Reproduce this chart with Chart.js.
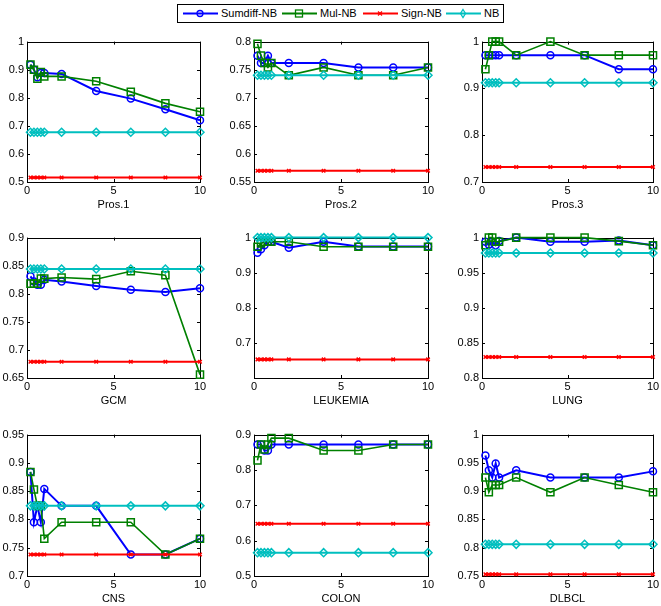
<!DOCTYPE html>
<html>
<head>
<meta charset="utf-8">
<script src="https://cdn.jsdelivr.net/npm/chart.js@4/dist/chart.umd.min.js"></script>
<style>
    html, body { margin: 0; padding: 0; background: #fff; }
    body { width: 661px; height: 606px; position: relative; overflow: hidden; font-family: "Liberation Sans", Arial, sans-serif; }
    canvas.panel { position: absolute; }
    #legend { position: absolute; left: 177px; top: 4px; width: 325px; height: 17px; border: 1px solid #000; background: #fff; }
    #legend .item { position: absolute; top: 0; height: 17px; font-size: 11px; line-height: 17px; color: #000; white-space: nowrap; }
    #legend svg { position: absolute; top: 0; }
</style>
</head>
<body>
<div id="legend"></div>

<script>
// x positions shared by every panel
const xValues = [0.2, 0.4, 0.6, 0.8, 1, 2, 4, 6, 8, 10];
const xTicks = [0, 5, 10];

const panelTitles = ['Pros.1', 'Pros.2', 'Pros.3', 'GCM', 'LEUKEMIA', 'LUNG', 'CNS', 'COLON', 'DLBCL'];
const seriesNames = ['Sumdiff-NB', 'Mul-NB', 'Sign-NB', 'NB'];

// one row per panel, same order as panelTitles
const sumdiffNB = [
    [0.918, 0.900, 0.873, 0.888, 0.888, 0.885, 0.824, 0.797, 0.759, 0.720],
    [0.775, 0.762, 0.762, 0.775, 0.762, 0.762, 0.762, 0.754, 0.754, 0.754],
    [0.971, 0.971, 0.971, 0.971, 0.971, 0.971, 0.971, 0.971, 0.941, 0.941],
    [0.831, 0.822, 0.816, 0.816, 0.825, 0.822, 0.814, 0.807, 0.803, 0.810],
    [0.957, 0.967, 0.978, 0.988, 0.988, 0.971, 0.988, 0.975, 0.975, 0.975],
    [0.994, 0.990, 0.994, 0.989, 0.995, 1.000, 0.994, 0.994, 0.996, 0.989],
    [0.884, 0.795, 0.824, 0.795, 0.854, 0.824, 0.824, 0.738, 0.738, 0.766],
    [0.872, 0.872, 0.855, 0.855, 0.872, 0.872, 0.872, 0.872, 0.872, 0.872],
    [0.963, 0.937, 0.924, 0.949, 0.924, 0.937, 0.924, 0.924, 0.924, 0.935]
];
const mulNB = [
    [0.918, 0.900, 0.868, 0.892, 0.876, 0.876, 0.859, 0.821, 0.780, 0.750],
    [0.796, 0.775, 0.762, 0.754, 0.762, 0.740, 0.754, 0.740, 0.740, 0.754],
    [0.941, 0.971, 1.000, 1.000, 1.000, 0.971, 1.000, 0.971, 0.971, 0.971],
    [0.818, 0.818, 0.818, 0.827, 0.827, 0.829, 0.826, 0.840, 0.833, 0.656],
    [0.974, 0.983, 0.988, 0.988, 0.988, 0.988, 0.974, 0.974, 0.974, 0.974],
    [0.989, 1.000, 1.000, 0.994, 0.994, 1.000, 1.000, 1.000, 0.995, 0.989],
    [0.884, 0.853, 0.824, 0.824, 0.766, 0.795, 0.795, 0.795, 0.738, 0.766],
    [0.827, 0.872, 0.858, 0.872, 0.890, 0.890, 0.855, 0.855, 0.872, 0.872],
    [0.924, 0.898, 0.911, 0.911, 0.911, 0.924, 0.898, 0.924, 0.911, 0.898]
];
const signNB = [
    [0.516, 0.516, 0.516, 0.516, 0.516, 0.516, 0.516, 0.516, 0.516, 0.516],
    [0.570, 0.570, 0.570, 0.570, 0.570, 0.570, 0.570, 0.570, 0.570, 0.570],
    [0.732, 0.732, 0.732, 0.732, 0.732, 0.732, 0.732, 0.732, 0.732, 0.732],
    [0.679, 0.679, 0.679, 0.679, 0.679, 0.679, 0.679, 0.679, 0.679, 0.679],
    [0.653, 0.653, 0.653, 0.653, 0.653, 0.653, 0.653, 0.653, 0.653, 0.653],
    [0.830, 0.830, 0.830, 0.830, 0.830, 0.830, 0.830, 0.830, 0.830, 0.830],
    [0.738, 0.738, 0.738, 0.738, 0.738, 0.738, 0.738, 0.738, 0.738, 0.738],
    [0.648, 0.648, 0.648, 0.648, 0.648, 0.648, 0.648, 0.648, 0.648, 0.648],
    [0.753, 0.753, 0.753, 0.753, 0.753, 0.753, 0.753, 0.753, 0.753, 0.753]
];
const nbValues = [
    [0.677, 0.677, 0.677, 0.677, 0.677, 0.677, 0.677, 0.677, 0.677, 0.677],
    [0.740, 0.740, 0.740, 0.740, 0.740, 0.740, 0.740, 0.740, 0.740, 0.740],
    [0.912, 0.912, 0.912, 0.912, 0.912, 0.912, 0.912, 0.912, 0.912, 0.912],
    [0.844, 0.844, 0.844, 0.844, 0.844, 0.844, 0.844, 0.844, 0.844, 0.844],
    [1.000, 1.000, 1.000, 1.000, 1.000, 1.000, 1.000, 1.000, 1.000, 1.000],
    [0.978, 0.978, 0.978, 0.978, 0.978, 0.978, 0.978, 0.978, 0.978, 0.978],
    [0.824, 0.824, 0.824, 0.824, 0.824, 0.824, 0.824, 0.824, 0.824, 0.824],
    [0.566, 0.566, 0.566, 0.566, 0.566, 0.566, 0.566, 0.566, 0.566, 0.566],
    [0.806, 0.806, 0.806, 0.806, 0.806, 0.806, 0.806, 0.806, 0.806, 0.806]
];

// y axis limits and tick labels per panel
const yMin = [0.5, 0.55, 0.7, 0.65, 0.6, 0.8, 0.7, 0.5, 0.75];
const yMax = [1, 0.8, 1, 0.9, 1, 1, 0.95, 0.9, 1];
const yTicks = [
    [0.5, 0.6, 0.7, 0.8, 0.9, 1],
    [0.55, 0.6, 0.65, 0.7, 0.75, 0.8],
    [0.7, 0.8, 0.9, 1],
    [0.65, 0.7, 0.75, 0.8, 0.85, 0.9],
    [0.7, 0.8, 0.9, 1],
    [0.8, 0.85, 0.9, 0.95, 1],
    [0.7, 0.75, 0.8, 0.85, 0.9, 0.95],
    [0.5, 0.6, 0.7, 0.8, 0.9],
    [0.75, 0.8, 0.85, 0.9, 0.95, 1]
];

// layout of the axes boxes (page pixels)
const colEdges = [[27, 200], [254, 428], [482, 653]];
const rowEdges = [[40, 182], [236, 378], [433, 576]];
const LEFT_PAD = 34, TOP_PAD = 8, RIGHT_PAD = 10, X_AXIS_H = 34;

const styles = [
    { color: '#0000ff', point: 'circle', radius: 3.5, width: 2 },
    { color: '#008000', point: 'rect', radius: 5, width: 1.6 },
    { color: '#ff0000', point: 'crossRot', radius: 2.5, width: 2 },
    { color: '#00bfbf', point: 'rectRot', radius: 4, width: 2 }
];

const FONT = { family: '"Liberation Sans", Arial, sans-serif', size: 11 };

function fmt(v) {
    return String(Number(v.toFixed(2)));
}

// axes box with inward ticks on all four sides
const matlabBox = {
    id: 'matlabBox',
    beforeDatasetsDraw(chart) {
        const { ctx, chartArea: a, scales } = chart;
        const tl = 3;
        ctx.save();
        ctx.strokeStyle = '#000';
        ctx.lineWidth = 1;
        ctx.strokeRect(Math.round(a.left) + 0.5, Math.round(a.top) + 0.5,
            Math.round(a.right - a.left), Math.round(a.bottom - a.top));
        ctx.beginPath();
        scales.x.ticks.forEach(t => {
            const px = Math.round(scales.x.getPixelForValue(t.value)) + 0.5;
            ctx.moveTo(px, a.bottom); ctx.lineTo(px, a.bottom - tl);
            ctx.moveTo(px, a.top); ctx.lineTo(px, a.top + tl);
        });
        scales.y.ticks.forEach(t => {
            const py = Math.round(scales.y.getPixelForValue(t.value)) + 0.5;
            ctx.moveTo(a.left, py); ctx.lineTo(a.left + tl, py);
            ctx.moveTo(a.right, py); ctx.lineTo(a.right - tl, py);
        });
        ctx.stroke();
        ctx.restore();
    }
};

function buildPanel(i) {
    const [left, right] = colEdges[i % 3];
    const [top, bottom] = rowEdges[Math.floor(i / 3)];
    const canvas = document.createElement('canvas');
    canvas.className = 'panel';
    canvas.width = right - left + LEFT_PAD + RIGHT_PAD;
    canvas.height = bottom - top + TOP_PAD + X_AXIS_H;
    canvas.style.left = (left - LEFT_PAD) + 'px';
    canvas.style.top = (top - TOP_PAD) + 'px';
    document.body.appendChild(canvas);

    const seriesData = [sumdiffNB[i], mulNB[i], signNB[i], nbValues[i]];
    const datasets = seriesData.map((vals, k) => ({
        label: seriesNames[k],
        data: xValues.map((x, j) => ({ x: x, y: vals[j] })),
        borderColor: styles[k].color,
        backgroundColor: 'rgba(0,0,0,0)',
        borderWidth: styles[k].width,
        pointStyle: styles[k].point,
        pointRadius: styles[k].radius,
        pointBorderColor: styles[k].color,
        pointBackgroundColor: 'rgba(0,0,0,0)',
        pointBorderWidth: 1.5,
        tension: 0,
        clip: false,
        order: 3 - k
    }));

    return new Chart(canvas.getContext('2d'), {
        type: 'line',
        data: { datasets: datasets },
        options: {
            responsive: false,
            animation: false,
            events: [],
            layout: { padding: { left: 0, top: TOP_PAD, right: RIGHT_PAD, bottom: 0 } },
            plugins: {
                legend: { display: false },
                tooltip: { enabled: false }
            },
            scales: {
                x: {
                    type: 'linear',
                    min: 0,
                    max: 10,
                    afterBuildTicks: s => { s.ticks = xTicks.map(v => ({ value: v })); },
                    afterFit: s => { s.height = X_AXIS_H; },
                    grid: { display: false, drawTicks: false },
                    border: { display: false },
                    ticks: { color: '#000', font: FONT, padding: 2, maxRotation: 0, callback: v => fmt(v) },
                    title: {
                        display: true,
                        text: panelTitles[i],
                        color: '#000',
                        font: FONT,
                        padding: { top: 4, bottom: 4 }
                    }
                },
                y: {
                    type: 'linear',
                    min: yMin[i],
                    max: yMax[i],
                    afterBuildTicks: s => { s.ticks = yTicks[i].map(v => ({ value: v })); },
                    afterFit: s => { s.width = LEFT_PAD; },
                    grid: { display: false, drawTicks: false },
                    border: { display: false },
                    ticks: { color: '#000', font: FONT, padding: 3, callback: v => fmt(v) }
                }
            }
        },
        plugins: [matlabBox]
    });
}

function markerSvg(k) {
    const c = styles[k].color;
    let m = '';
    if (k === 0) m = `<circle cx="17" cy="8.5" r="3" fill="none" stroke="${c}" stroke-width="1.3"/>`;
    if (k === 1) m = `<rect x="13.5" y="5" width="7" height="7" fill="none" stroke="${c}" stroke-width="1.3"/>`;
    if (k === 2) m = `<path d="M15 6.5 L19 10.5 M19 6.5 L15 10.5" stroke="${c}" stroke-width="1.3"/>`;
    if (k === 3) m = `<path d="M17 4.5 L19.5 8.5 L17 12.5 L14.5 8.5 Z" fill="none" stroke="${c}" stroke-width="1.3"/>`;
    return `<svg width="35" height="17"><line x1="0" y1="8.5" x2="35" y2="8.5" stroke="${c}" stroke-width="2"/>${m}</svg>`;
}

function buildLegend() {
    const legend = document.getElementById('legend');
    const itemLeft = [5, 104, 185, 268];
    seriesNames.forEach((name, k) => {
        const item = document.createElement('div');
        item.className = 'item';
        item.style.left = itemLeft[k] + 'px';
        item.innerHTML = markerSvg(k) + `<span style="position:absolute;left:38px;top:0">${name}</span>`;
        legend.appendChild(item);
    });
}

buildLegend();
panelTitles.forEach((_, i) => buildPanel(i));
</script>
</body>
</html>
